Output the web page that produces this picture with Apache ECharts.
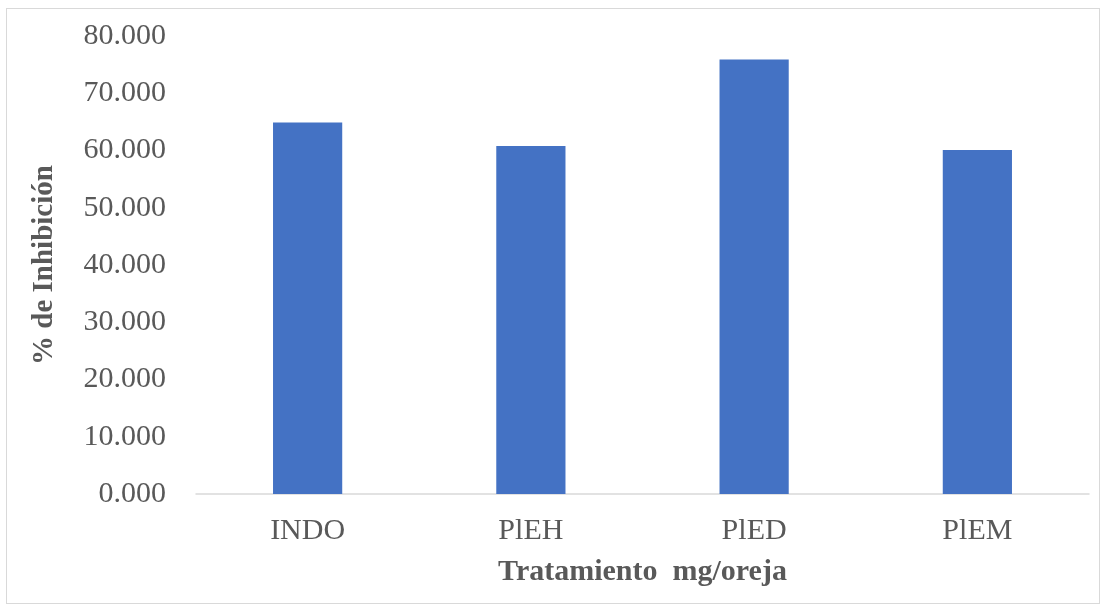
<!DOCTYPE html>
<html>
<head>
<meta charset="utf-8">
<script src="https://cdn.jsdelivr.net/npm/echarts@6/dist/echarts.min.js"></script>
<style>
  html, body { margin: 0; padding: 0; background: #fff; }
  #frame { position: absolute; left: 6px; top: 8px; width: 1094px; height: 596px; border: 1px solid #d9d9d9; box-sizing: border-box; }
  #chart { position: absolute; left: 0; top: 0; width: 1107px; height: 610px; }
</style>
</head>
<body>
<div id="frame"></div>
<div id="chart"></div>
<script>
// Treatments and their inhibition percentages
const categories = ['INDO', 'PlEH', 'PlED', 'PlEM'];
const inhibition = [64.9, 60.8, 75.9, 60.1];
const yTickStep = 10;

const chart = echarts.init(document.getElementById('chart'), null, { renderer: 'canvas' });
const serif = '"Liberation Serif", "Times New Roman", serif';

chart.setOption({
  animation: false,
  backgroundColor: 'transparent',
  grid: { left: 196, right: 18, top: 36, bottom: 116, containLabel: false },
  xAxis: {
    type: 'category',
    data: categories,
    name: 'Tratamiento  mg/oreja',
    nameLocation: 'middle',
    nameGap: 63,
    nameTextStyle: { fontFamily: serif, fontSize: 30, fontWeight: 'bold', color: '#595959' },
    axisLine: { lineStyle: { color: '#d9d9d9', width: 1.5 } },
    axisTick: { show: false },
    axisLabel: { fontFamily: serif, fontSize: 30, color: '#595959', margin: 22 }
  },
  yAxis: {
    type: 'value',
    min: 0,
    max: 80,
    interval: yTickStep,
    name: '% de Inhibición',
    nameLocation: 'middle',
    nameGap: 137,
    nameRotate: 90,
    nameTextStyle: { fontFamily: serif, fontSize: 29, fontWeight: 'bold', color: '#595959' },
    axisLine: { show: false },
    axisTick: { show: false },
    splitLine: { show: false },
    axisLabel: {
      fontFamily: serif, fontSize: 30, color: '#595959', margin: 30,
      formatter: v => v.toFixed(3)
    }
  },
  series: [{
    type: 'bar',
    data: inhibition,
    barWidth: '31%',
    itemStyle: { color: '#4472c4' }
  }]
});
</script>
</body>
</html>
